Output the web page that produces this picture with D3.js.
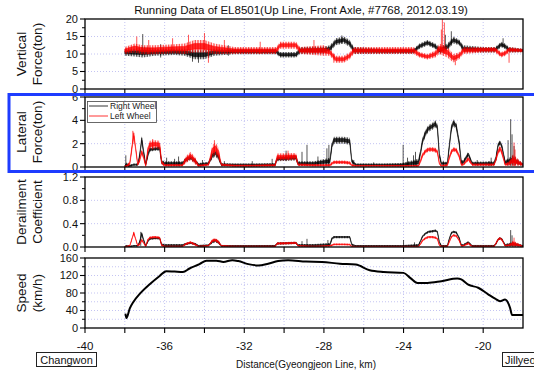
<!DOCTYPE html>
<html>
<head>
<meta charset="utf-8">
<script src="https://cdn.jsdelivr.net/npm/d3@7"></script>
<style>
  body { margin: 0; background: #fff; }
  svg { display: block; font-family: "Liberation Sans", Arial, sans-serif; }
</style>
</head>
<body>
<div id="chart"></div>
<script>
// ---- data (km on the Gyeongjeon line) ----
const distTicks = [-40, -36, -32, -28, -24, -20];

// vertical force (ton): centre of the noisy trace and half the noise band
const vertKm = [-38.0, -37.5, -37.1, -36.5, -35.5, -35.0, -34.5, -34.0, -33.5, -32.5, -31.5, -30.4, -30.2, -29.4, -29.2, -28.0, -27.7, -27.4, -27.0, -26.7, -26.5, -25.0, -23.5, -23.2, -22.8, -22.4, -22.2, -21.8, -21.5, -21.2, -21.0, -20.0, -19.4, -19.1, -18.9, -18.7, -18.0];
const vertRight = [10.5, 10.4, 10.5, 10.5, 10.6, 10.5, 9.8, 9.8, 10.5, 10.7, 10.7, 10.7, 9.8, 9.8, 11.0, 11.1, 11.5, 13.5, 14.0, 13.0, 11.0, 10.8, 10.8, 12.2, 13.2, 12.2, 11.0, 12.0, 14.0, 13.3, 11.5, 11.2, 11.2, 12.7, 12.2, 11.2, 11.0];
const vertRightNoise = [1.0, 1.1, 1.5, 1.0, 0.9, 1.0, 1.3, 1.3, 1.0, 0.8, 0.8, 0.8, 0.8, 0.8, 1.0, 1.0, 1.0, 1.0, 1.0, 1.0, 1.0, 0.7, 0.7, 0.8, 0.8, 0.8, 1.0, 1.0, 1.0, 0.8, 1.0, 0.8, 0.8, 0.8, 0.8, 0.8, 0.5];
const vertLeft = [11.0, 11.7, 11.2, 11.2, 11.5, 11.5, 12.2, 12.2, 11.5, 11.0, 11.0, 11.0, 12.5, 12.5, 11.0, 11.0, 10.5, 8.5, 8.5, 9.5, 11.0, 11.0, 11.0, 9.8, 9.2, 10.0, 11.5, 10.5, 8.8, 9.5, 11.0, 11.2, 11.2, 9.8, 10.2, 11.2, 11.0];
const vertLeftNoise = [1.0, 1.3, 1.3, 1.3, 1.3, 1.5, 1.8, 1.8, 1.5, 1.0, 1.0, 1.0, 1.0, 1.0, 1.0, 1.5, 1.0, 1.0, 1.0, 1.0, 1.0, 1.0, 1.0, 0.8, 0.8, 1.0, 1.5, 1.5, 1.2, 1.0, 1.0, 0.8, 0.8, 0.8, 0.8, 0.8, 0.5];
// single spikes [km, low, high]
const vertRightSpikes = [[-37.1, 9.5, 15.7], [-36.2, 9, 12.8], [-34.6, 7.8, 10], [-34.3, 7.5, 10], [-32.8, 9.5, 12.5], [-27.1, 13, 15.3], [-21.9, 12, 15.5], [-21.6, 13, 16.5], [-19.0, 12, 14.5]];
const vertLeftSpikes = [[-37.4, 11, 15], [-36.8, 10, 14], [-35.6, 11, 14.5], [-34.8, 11, 15.5], [-34.0, 11, 16], [-33.8, 7.5, 11], [-33.0, 11, 14], [-31.2, 10, 13.5], [-28.5, 11, 14], [-27.5, 7.5, 10], [-22.1, 11, 17], [-22.05, 11, 20.5], [-21.95, 10, 19], [-21.4, 6.8, 9], [-18.7, 7.5, 10.5]];

// lateral force (ton) and derailment coefficient share the same break points
const featKm = [-38.0, -37.9, -37.75, -37.55, -37.35, -37.25, -37.15, -37.05, -36.95, -36.85, -36.75, -36.5, -36.25, -36.15, -36.0, -35.1, -34.95, -34.7, -34.45, -34.3, -33.8, -33.6, -33.45, -33.3, -33.15, -32.5, -31.5, -30.45, -30.35, -29.4, -29.3, -28.5, -27.7, -27.6, -27.5, -27.0, -26.7, -26.6, -26.4, -25.0, -24.1, -23.25, -23.15, -23.05, -22.9, -22.75, -22.55, -22.4, -22.3, -22.2, -22.1, -21.8, -21.7, -21.6, -21.5, -21.35, -21.2, -21.1, -21.0, -20.75, -20.55, -19.45, -19.35, -19.25, -19.15, -19.05, -18.9, -18.7, -18.5, -18.0];
const latRight = [0.1, 0.2, 0.1, 0.2, 0.2, 1.0, 2.4, 1.2, 0.2, 1.0, 1.5, 1.55, 1.6, 0.4, 0.3, 0.3, 0.6, 0.8, 0.5, 0.2, 0.3, 1.0, 1.2, 0.9, 0.2, 0.2, 0.2, 0.2, 0.7, 0.8, 0.3, 0.3, 0.5, 1.8, 2.3, 2.3, 2.2, 0.5, 0.2, 0.2, 0.2, 0.4, 1.2, 2.2, 2.9, 3.3, 3.5, 3.7, 3.4, 1.0, 0.3, 0.3, 1.8, 3.3, 3.8, 3.5, 2.0, 0.4, 0.4, 1.1, 0.3, 0.3, 0.8, 1.9, 2.1, 1.7, 0.4, 0.5, 0.6, 0.2];
const latRightNoise = [0.1, 0.2, 0.1, 0.1, 0.1, 0.3, 0.25, 0.3, 0.1, 0.3, 0.2, 0.15, 0.2, 0.2, 0.2, 0.2, 0.2, 0.2, 0.2, 0.15, 0.15, 0.3, 0.3, 0.3, 0.15, 0.1, 0.1, 0.15, 0.2, 0.25, 0.2, 0.2, 0.3, 0.3, 0.3, 0.3, 0.3, 0.2, 0.1, 0.1, 0.15, 0.3, 0.3, 0.3, 0.3, 0.3, 0.3, 0.3, 0.3, 0.3, 0.15, 0.15, 0.3, 0.3, 0.3, 0.3, 0.3, 0.2, 0.2, 0.2, 0.15, 0.2, 0.3, 0.2, 0.2, 0.2, 0.2, 0.3, 0.4, 0.1];
const latLeft = [0.05, 0.1, 0.3, 2.8, 0.2, 0.6, 1.3, 0.8, 0.1, 1.4, 1.9, 1.95, 1.9, 0.4, 0.15, 0.15, 0.6, 0.95, 0.5, 0.1, 0.2, 1.4, 1.6, 1.2, 0.2, 0.1, 0.1, 0.15, 0.85, 0.9, 0.2, 0.15, 0.15, 0.3, 0.4, 0.4, 0.35, 0.15, 0.1, 0.1, 0.1, 0.1, 0.5, 1.0, 1.35, 1.5, 1.5, 1.45, 1.3, 0.3, 0.1, 0.15, 0.8, 1.3, 1.5, 1.45, 0.9, 0.2, 0.2, 0.7, 0.2, 0.2, 0.7, 1.3, 1.6, 1.2, 0.2, 0.3, 0.6, 0.2];
const latLeftNoise = [0.05, 0.1, 0.2, 0.3, 0.1, 0.2, 0.2, 0.2, 0.1, 0.3, 0.35, 0.35, 0.35, 0.2, 0.1, 0.1, 0.3, 0.35, 0.3, 0.1, 0.1, 0.5, 0.5, 0.5, 0.1, 0.1, 0.1, 0.1, 0.3, 0.3, 0.1, 0.1, 0.1, 0.15, 0.15, 0.15, 0.15, 0.1, 0.08, 0.08, 0.08, 0.08, 0.2, 0.2, 0.2, 0.2, 0.2, 0.2, 0.2, 0.15, 0.08, 0.1, 0.2, 0.2, 0.2, 0.2, 0.2, 0.1, 0.1, 0.2, 0.1, 0.1, 0.2, 0.25, 0.25, 0.25, 0.1, 0.2, 0.5, 0.1];
const latRightSpikes = [[-37.95, 0, 1.0], [-35.9, 0.1, 0.8], [-35.5, 0.1, 0.7], [-35.3, 0.1, 0.9], [-34.1, 0.1, 0.6], [-33.0, 0.1, 0.5], [-31.6, 0.1, 0.5], [-30.6, 0.1, 0.7], [-29.9, 0.5, 1.4], [-29.1, 0.1, 1.3], [-28.85, 0.1, 1.9], [-28.3, 0.1, 0.9], [-27.85, 0.1, 1.6], [-27.75, 0.1, 1.9], [-26.5, 0.1, 0.6], [-25.5, 0.1, 0.4], [-24.02, 0.1, 1.9], [-23.8, 0.1, 0.8], [-23.5, 0.1, 1.0], [-23.4, 0.1, 1.3], [-22.0, 0.1, 0.5], [-20.3, 0.1, 0.6], [-19.7, 0.1, 0.5], [-19.6, 0.1, 0.8], [-18.75, 0.1, 2.3], [-18.62, 0.1, 4.1], [-18.55, 0.1, 2.8], [-18.45, 0.1, 1.8]];
const latLeftSpikes = [[-37.6, 2.0, 3.1], [-36.6, 1.5, 2.4], [-33.5, 1.2, 2.3], [-29.8, 0.6, 1.4], [-18.45, 0.1, 2.1], [-18.4, 0.1, 1.5]];

const derRight = [0.01, 0.02, 0.01, 0.02, 0.02, 0.09, 0.23, 0.11, 0.02, 0.09, 0.14, 0.15, 0.15, 0.04, 0.03, 0.03, 0.05, 0.07, 0.05, 0.02, 0.03, 0.09, 0.11, 0.08, 0.02, 0.02, 0.02, 0.02, 0.06, 0.07, 0.03, 0.03, 0.04, 0.14, 0.17, 0.17, 0.17, 0.04, 0.02, 0.02, 0.02, 0.03, 0.1, 0.18, 0.23, 0.26, 0.27, 0.28, 0.26, 0.08, 0.02, 0.02, 0.14, 0.24, 0.26, 0.25, 0.15, 0.03, 0.03, 0.08, 0.02, 0.02, 0.06, 0.13, 0.15, 0.13, 0.03, 0.04, 0.05, 0.02];
const derRightNoise = [0.01, 0.015, 0.01, 0.01, 0.01, 0.03, 0.03, 0.03, 0.01, 0.02, 0.02, 0.015, 0.02, 0.02, 0.02, 0.02, 0.02, 0.02, 0.02, 0.015, 0.015, 0.03, 0.03, 0.03, 0.015, 0.01, 0.01, 0.015, 0.02, 0.02, 0.02, 0.02, 0.03, 0.03, 0.02, 0.02, 0.02, 0.02, 0.01, 0.01, 0.01, 0.02, 0.02, 0.02, 0.02, 0.02, 0.02, 0.02, 0.02, 0.02, 0.015, 0.015, 0.02, 0.02, 0.02, 0.02, 0.02, 0.02, 0.02, 0.02, 0.015, 0.015, 0.02, 0.02, 0.02, 0.02, 0.02, 0.03, 0.04, 0.01];
const derLeft = [0.005, 0.01, 0.02, 0.24, 0.02, 0.05, 0.12, 0.07, 0.01, 0.12, 0.16, 0.17, 0.16, 0.03, 0.01, 0.01, 0.05, 0.08, 0.04, 0.01, 0.02, 0.11, 0.12, 0.09, 0.02, 0.01, 0.01, 0.01, 0.06, 0.07, 0.02, 0.01, 0.02, 0.03, 0.045, 0.045, 0.04, 0.01, 0.01, 0.01, 0.01, 0.01, 0.05, 0.11, 0.15, 0.17, 0.17, 0.16, 0.14, 0.03, 0.01, 0.01, 0.09, 0.17, 0.2, 0.19, 0.11, 0.02, 0.02, 0.06, 0.01, 0.01, 0.07, 0.13, 0.15, 0.12, 0.02, 0.03, 0.06, 0.01];
const derLeftNoise = [0.005, 0.01, 0.015, 0.02, 0.01, 0.02, 0.02, 0.02, 0.01, 0.02, 0.02, 0.02, 0.02, 0.02, 0.01, 0.01, 0.02, 0.02, 0.02, 0.01, 0.01, 0.03, 0.03, 0.03, 0.01, 0.01, 0.01, 0.01, 0.02, 0.02, 0.01, 0.01, 0.01, 0.015, 0.015, 0.015, 0.015, 0.01, 0.005, 0.005, 0.005, 0.005, 0.02, 0.02, 0.02, 0.02, 0.02, 0.02, 0.02, 0.015, 0.01, 0.01, 0.02, 0.02, 0.02, 0.02, 0.02, 0.01, 0.01, 0.02, 0.01, 0.01, 0.02, 0.02, 0.02, 0.02, 0.01, 0.02, 0.05, 0.01];
const derRightSpikes = [[-37.2, 0.02, 0.26], [-29.1, 0.02, 0.1], [-28.85, 0.02, 0.14], [-27.8, 0.02, 0.12], [-24.0, 0.01, 0.12], [-23.45, 0.01, 0.08], [-18.62, 0.02, 0.29], [-18.55, 0.02, 0.2]];
const derLeftSpikes = [[-37.55, 0.2, 0.26], [-18.45, 0.01, 0.16]];

// speed (km/h)
const speedKm = [-37.97, -37.92, -37.75, -37.58, -37.25, -36.75, -36.25, -35.92, -35.5, -35.08, -34.75, -34.25, -33.9, -33.4, -33.05, -32.6, -32.3, -31.8, -31.3, -30.8, -30.3, -29.8, -28.9, -28.1, -27.2, -26.4, -25.7, -25.0, -24.0, -23.65, -23.3, -22.8, -22.1, -21.3, -21.1, -20.75, -20.25, -19.75, -19.4, -19.15, -18.9, -18.65, -18.55, -18.0];
const speed = [33, 23, 45, 59, 78, 100, 119, 130, 129, 128, 136, 146, 154, 154, 151, 155, 153, 146, 143, 147, 153, 155, 152, 151, 147, 145, 132, 128, 126, 114, 103, 103, 107, 113, 111, 99, 92, 77, 67, 61, 65, 46, 30, 30];

// ---- layout ----
const W = 534, H = 371;
const left = 85, right = 523, panelH = 70;
const red = "#ff0000", gridColor = "#c4c4f2";

const svg = d3.select("#chart").append("svg").attr("width", W).attr("height", H);
const x = d3.scaleLinear().domain([-40, -18]).range([left, right]);

// streak texture so the noise bands read like a dense, jittery trace
const defs = svg.append("defs");
[["black", "#000"], ["red", red]].forEach(([name, c]) => {
  const pat = defs.append("pattern").attr("id", "streak-" + name)
    .attr("patternUnits", "userSpaceOnUse").attr("width", 1.6).attr("height", 3);
  pat.append("rect").attr("width", 0.8).attr("height", 3).attr("fill", c);
});

const panels = [
  { id: "vert", top: 19, domain: [0, 20], major: [0, 5, 10, 15, 20], minor: [2.5, 7.5, 12.5, 17.5], grid: [5, 10, 15], fmt: d3.format("d"),
    title: ["Vertical", "Force(ton)"],
    series: [
      { km: vertKm, mid: vertRight, noise: vertRightNoise, spikes: vertRightSpikes, color: "#000", tex: "black" },
      { km: vertKm, mid: vertLeft, noise: vertLeftNoise, spikes: vertLeftSpikes, color: red, tex: "red" }] },
  { id: "lat", top: 97, domain: [0, 6], major: [0, 2, 4, 6], minor: [1, 3, 5], grid: [2, 4], fmt: d3.format("d"),
    title: ["Lateral", "Force(ton)"],
    series: [
      { km: featKm, mid: latRight, noise: latRightNoise, spikes: latRightSpikes, color: "#000", tex: "black" },
      { km: featKm, mid: latLeft, noise: latLeftNoise, spikes: latLeftSpikes, color: red, tex: "red" }] },
  { id: "der", top: 177, domain: [0, 1.2], major: [0, 0.4, 0.8, 1.2], minor: [0.2, 0.6, 1.0], grid: [0.4, 0.8], fmt: d3.format(".1f"),
    title: ["Derailment", "Coefficient"],
    series: [
      { km: featKm, mid: derRight, noise: derRightNoise, spikes: derRightSpikes, color: "#000", tex: "black" },
      { km: featKm, mid: derLeft, noise: derLeftNoise, spikes: derLeftSpikes, color: red, tex: "red" }] },
  { id: "spd", top: 258, domain: [0, 160], major: [0, 40, 80, 120, 160], minor: [20, 60, 100, 140], grid: [20, 40, 60, 80, 100, 120, 140], fmt: d3.format("d"),
    title: ["Speed", "(km/h)"], series: [] }
];

const xGrid = d3.range(-38, -18, 2);

panels.forEach(p => {
  const y = d3.scaleLinear().domain(p.domain).range([p.top + panelH, p.top]);
  const g = svg.append("g");

  g.append("clipPath").attr("id", "clip-" + p.id)
    .append("rect").attr("x", left).attr("y", p.top).attr("width", right - left).attr("height", panelH);

  // dotted grid
  g.selectAll(".gx").data(xGrid).join("line")
    .attr("x1", d => x(d)).attr("x2", d => x(d))
    .attr("y1", p.top).attr("y2", p.top + panelH)
    .attr("stroke", gridColor).attr("stroke-width", 1).attr("stroke-dasharray", "1,2");
  g.selectAll(".gy").data(p.grid).join("line")
    .attr("x1", left).attr("x2", right)
    .attr("y1", d => y(d)).attr("y2", d => y(d))
    .attr("stroke", gridColor).attr("stroke-width", 1).attr("stroke-dasharray", "1,2");

  const plot = g.append("g").attr("clip-path", `url(#clip-${p.id})`);

  p.series.forEach(s => {
    const pts = s.km.map((k, i) => ({ k, m: s.mid[i], n: s.noise[i] }));
    // outer noise envelope: streaked, semi transparent
    const outer = d3.area()
      .x(d => x(d.k))
      .y0(d => y(Math.max(0, d.m - d.n)))
      .y1(d => y(d.m + d.n));
    // dense core of the trace
    const core = d3.area()
      .x(d => x(d.k))
      .y0(d => y(Math.max(0, d.m - d.n * 0.45)))
      .y1(d => y(d.m + d.n * 0.45));
    plot.append("path").datum(pts)
      .attr("d", outer).attr("fill", `url(#streak-${s.tex})`).attr("opacity", 0.75);
    plot.append("path").datum(pts)
      .attr("d", core).attr("fill", s.color).attr("fill-opacity", 0.8)
      .attr("stroke", s.color).attr("stroke-width", 0.5);
    plot.selectAll(null).data(s.spikes).join("line")
      .attr("x1", d => x(d[0])).attr("x2", d => x(d[0]))
      .attr("y1", d => y(d[1])).attr("y2", d => y(d[2]))
      .attr("stroke", s.color).attr("stroke-width", 0.8).attr("stroke-opacity", 0.85);
  });

  if (p.id === "spd") {
    const line = d3.line().x((d, i) => x(speedKm[i])).y(d => y(d)).curve(d3.curveMonotoneX);
    plot.append("path").datum(speed)
      .attr("d", line).attr("fill", "none").attr("stroke", "#000").attr("stroke-width", 2);
  }

  // frame
  g.append("rect").attr("x", left).attr("y", p.top).attr("width", right - left).attr("height", panelH)
    .attr("fill", "none").attr("stroke", "#000").attr("stroke-width", 1.3);

  // left ticks (outward) and labels
  g.selectAll(".ty").data(p.major).join("line")
    .attr("x1", left - 5).attr("x2", left).attr("y1", d => y(d)).attr("y2", d => y(d))
    .attr("stroke", "#000").attr("stroke-width", 1.1);
  g.selectAll(".tym").data(p.minor).join("line")
    .attr("x1", left - 3).attr("x2", left).attr("y1", d => y(d)).attr("y2", d => y(d))
    .attr("stroke", "#000").attr("stroke-width", 1);
  g.selectAll(".ly").data(p.major).join("text")
    .attr("x", left - 7).attr("y", d => y(d)).attr("dy", "0.36em")
    .attr("text-anchor", "end").attr("font-size", 11).attr("fill", "#111")
    .text(p.fmt);

  // bottom ticks (outward)
  g.selectAll(".tx").data(d3.range(-40, -18, 2)).join("line")
    .attr("x1", d => x(d)).attr("x2", d => x(d))
    .attr("y1", p.top + panelH).attr("y2", p.top + panelH + 5)
    .attr("stroke", "#000").attr("stroke-width", 1.1);

  // axis title, two rotated lines
  p.title.forEach((t, i) => {
    svg.append("text")
      .attr("transform", `translate(${21 + i * 16},${p.top + panelH / 2}) rotate(-90)`)
      .attr("dy", "0.36em").attr("text-anchor", "middle")
      .attr("font-size", 13.5).attr("fill", "#111").text(t);
  });
});

// bottom axis labels
const yBottom = panels[3].top + panelH;
svg.selectAll(".lx").data(distTicks).join("text")
  .attr("x", d => x(d)).attr("y", yBottom + 22)
  .attr("text-anchor", "middle").attr("font-size", 11.5).attr("fill", "#111")
  .text(d => d);

svg.append("text").attr("x", 306).attr("y", 368).attr("text-anchor", "middle")
  .attr("font-size", 10).attr("fill", "#111").text("Distance(Gyeongjeon Line, km)");

// station boxes
svg.append("rect").attr("x", 36.5).attr("y", 352.5).attr("width", 60).attr("height", 14)
  .attr("fill", "#fff").attr("stroke", "#222").attr("stroke-width", 1);
svg.append("text").attr("x", 66.5).attr("y", 363.5).attr("text-anchor", "middle")
  .attr("font-size", 11).attr("fill", "#111").text("Changwon");
svg.append("rect").attr("x", 502.5).attr("y", 352.5).attr("width", 60).attr("height", 14)
  .attr("fill", "#fff").attr("stroke", "#222").attr("stroke-width", 1);
svg.append("text").attr("x", 505).attr("y", 363.5)
  .attr("font-size", 11).attr("fill", "#111").text("Jillyeong");

// title
svg.append("text").attr("x", 301).attr("y", 14).attr("text-anchor", "middle")
  .attr("font-size", 11.5).attr("fill", "#111")
  .text("Running Data of EL8501(Up Line, Front Axle, #7768, 2012.03.19)");

// legend in the lateral panel
const legend = svg.append("g");
legend.append("rect").attr("x", 87.5).attr("y", 101.5).attr("width", 69).attr("height", 21)
  .attr("fill", "#fff").attr("stroke", "#444").attr("stroke-width", 0.8);
[["Right Wheel", "#000"], ["Left Wheel", red]].forEach(([name, c], i) => {
  const ly = 106 + i * 10;
  legend.append("line").attr("x1", 89).attr("x2", 108).attr("y1", ly).attr("y2", ly)
    .attr("stroke", c).attr("stroke-width", 0.8);
  legend.append("text").attr("x", 110).attr("y", ly + 3)
    .attr("font-size", 8.5).attr("fill", "#222").text(name);
});

// blue highlight frame round the lateral panel
svg.append("rect").attr("x", 9).attr("y", 94.5).attr("width", 540).attr("height", 77)
  .attr("fill", "none").attr("stroke", "#1e3cff").attr("stroke-width", 3);
</script>
</body>
</html>
